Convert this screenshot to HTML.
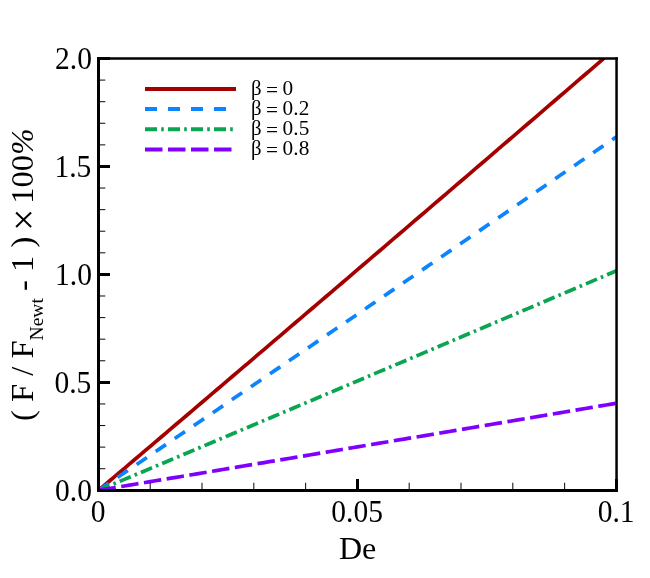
<!DOCTYPE html>
<html><head><meta charset="utf-8"><title>chart</title>
<style>
html,body{margin:0;padding:0;background:#fff;}
body{width:650px;height:578px;overflow:hidden;font-family:"Liberation Serif",serif;}
svg{display:block;position:absolute;left:0;top:0;will-change:transform;}
text{font-family:"Liberation Serif",serif;fill:#000;}
</style></head><body>
<svg width="650" height="578" viewBox="0 0 650 578">
<rect x="0" y="0" width="650" height="578" fill="#fff"/>
<defs><clipPath id="plot"><rect x="98.5" y="58.5" width="518" height="431.8"/></clipPath></defs>

<g fill="none" stroke-width="3.70" clip-path="url(#plot)">
<path d="M98.50 490.30 L103.68 485.90 L108.86 481.51 L114.04 477.11 L119.22 472.71 L124.40 468.31 L129.58 463.91 L134.76 459.51 L139.94 455.11 L145.12 450.71 L150.30 446.30 L155.48 441.90 L160.66 437.50 L165.84 433.09 L171.02 428.69 L176.20 424.28 L181.38 419.87 L186.56 415.47 L191.74 411.06 L196.92 406.65 L202.10 402.24 L207.28 397.83 L212.46 393.42 L217.64 389.01 L222.82 384.60 L228.00 380.19 L233.18 375.78 L238.36 371.36 L243.54 366.95 L248.72 362.54 L253.90 358.12 L259.08 353.70 L264.26 349.29 L269.44 344.87 L274.62 340.45 L279.80 336.04 L284.98 331.62 L290.16 327.20 L295.34 322.78 L300.52 318.36 L305.70 313.94 L310.88 309.51 L316.06 305.09 L321.24 300.67 L326.42 296.24 L331.60 291.82 L336.78 287.39 L341.96 282.97 L347.14 278.54 L352.32 274.12 L357.50 269.69 L362.68 265.26 L367.86 260.83 L373.04 256.40 L378.22 251.97 L383.40 247.54 L388.58 243.11 L393.76 238.68 L398.94 234.24 L404.12 229.81 L409.30 225.38 L414.48 220.94 L419.66 216.51 L424.84 212.07 L430.02 207.64 L435.20 203.20 L440.38 198.76 L445.56 194.32 L450.74 189.88 L455.92 185.45 L461.10 181.00 L466.28 176.56 L471.46 172.12 L476.64 167.68 L481.82 163.24 L487.00 158.79 L492.18 154.35 L497.36 149.91 L502.54 145.46 L507.72 141.02 L512.90 136.57 L518.08 132.12 L523.26 127.67 L528.44 123.23 L533.62 118.78 L538.80 114.33 L543.98 109.88 L549.16 105.43 L554.34 100.98 L559.52 96.52 L564.70 92.07 L569.88 87.62 L575.06 83.16 L580.24 78.71 L585.42 74.25 L590.60 69.80 L595.78 65.34 L600.96 60.89 L606.14 56.43 L611.32 51.97 L616.50 47.51" stroke="#a50000"/>
<path d="M98.50 490.30 L103.68 486.79 L108.86 483.28 L114.04 479.76 L119.22 476.25 L124.40 472.74 L129.58 469.22 L134.76 465.71 L139.94 462.20 L145.12 458.68 L150.30 455.16 L155.48 451.65 L160.66 448.13 L165.84 444.61 L171.02 441.10 L176.20 437.58 L181.38 434.06 L186.56 430.54 L191.74 427.02 L196.92 423.50 L202.10 419.98 L207.28 416.46 L212.46 412.93 L217.64 409.41 L222.82 405.89 L228.00 402.37 L233.18 398.84 L238.36 395.32 L243.54 391.79 L248.72 388.27 L253.90 384.74 L259.08 381.22 L264.26 377.69 L269.44 374.16 L274.62 370.63 L279.80 367.10 L284.98 363.58 L290.16 360.05 L295.34 356.52 L300.52 352.99 L305.70 349.46 L310.88 345.92 L316.06 342.39 L321.24 338.86 L326.42 335.33 L331.60 331.79 L336.78 328.26 L341.96 324.73 L347.14 321.19 L352.32 317.66 L357.50 314.12 L362.68 310.58 L367.86 307.05 L373.04 303.51 L378.22 299.97 L383.40 296.43 L388.58 292.89 L393.76 289.35 L398.94 285.81 L404.12 282.27 L409.30 278.73 L414.48 275.19 L419.66 271.65 L424.84 268.11 L430.02 264.56 L435.20 261.02 L440.38 257.48 L445.56 253.93 L450.74 250.39 L455.92 246.84 L461.10 243.30 L466.28 239.75 L471.46 236.20 L476.64 232.66 L481.82 229.11 L487.00 225.56 L492.18 222.01 L497.36 218.46 L502.54 214.91 L507.72 211.36 L512.90 207.81 L518.08 204.26 L523.26 200.71 L528.44 197.16 L533.62 193.60 L538.80 190.05 L543.98 186.50 L549.16 182.94 L554.34 179.39 L559.52 175.83 L564.70 172.27 L569.88 168.72 L575.06 165.16 L580.24 161.60 L585.42 158.05 L590.60 154.49 L595.78 150.93 L600.96 147.37 L606.14 143.81 L611.32 140.25 L616.50 136.69" stroke="#0a84ff" stroke-dasharray="12.4 10.635"/>
<path d="M98.50 490.30 L103.68 488.12 L108.86 485.94 L114.04 483.76 L119.22 481.58 L124.40 479.40 L129.58 477.22 L134.76 475.04 L139.94 472.85 L145.12 470.67 L150.30 468.49 L155.48 466.31 L160.66 464.12 L165.84 461.94 L171.02 459.76 L176.20 457.57 L181.38 455.39 L186.56 453.21 L191.74 451.02 L196.92 448.84 L202.10 446.65 L207.28 444.46 L212.46 442.28 L217.64 440.09 L222.82 437.91 L228.00 435.72 L233.18 433.53 L238.36 431.34 L243.54 429.16 L248.72 426.97 L253.90 424.78 L259.08 422.59 L264.26 420.40 L269.44 418.21 L274.62 416.02 L279.80 413.83 L284.98 411.64 L290.16 409.45 L295.34 407.26 L300.52 405.07 L305.70 402.88 L310.88 400.68 L316.06 398.49 L321.24 396.30 L326.42 394.11 L331.60 391.91 L336.78 389.72 L341.96 387.53 L347.14 385.33 L352.32 383.14 L357.50 380.94 L362.68 378.75 L367.86 376.55 L373.04 374.36 L378.22 372.16 L383.40 369.96 L388.58 367.77 L393.76 365.57 L398.94 363.37 L404.12 361.18 L409.30 358.98 L414.48 356.78 L419.66 354.58 L424.84 352.38 L430.02 350.18 L435.20 347.98 L440.38 345.78 L445.56 343.58 L450.74 341.38 L455.92 339.18 L461.10 336.98 L466.28 334.78 L471.46 332.58 L476.64 330.38 L481.82 328.18 L487.00 325.97 L492.18 323.77 L497.36 321.57 L502.54 319.36 L507.72 317.16 L512.90 314.96 L518.08 312.75 L523.26 310.55 L528.44 308.34 L533.62 306.14 L538.80 303.93 L543.98 301.72 L549.16 299.52 L554.34 297.31 L559.52 295.11 L564.70 292.90 L569.88 290.69 L575.06 288.48 L580.24 286.27 L585.42 284.07 L590.60 281.86 L595.78 279.65 L600.96 277.44 L606.14 275.23 L611.32 273.02 L616.50 270.81" stroke="#0aa550" stroke-dasharray="12 4.2 2.6 4.215"/>
<path d="M98.50 490.30 L103.68 489.44 L108.86 488.57 L114.04 487.71 L119.22 486.84 L124.40 485.97 L129.58 485.11 L134.76 484.24 L139.94 483.38 L145.12 482.51 L150.30 481.65 L155.48 480.78 L160.66 479.91 L165.84 479.05 L171.02 478.18 L176.20 477.31 L181.38 476.45 L186.56 475.58 L191.74 474.71 L196.92 473.85 L202.10 472.98 L207.28 472.11 L212.46 471.24 L217.64 470.38 L222.82 469.51 L228.00 468.64 L233.18 467.77 L238.36 466.91 L243.54 466.04 L248.72 465.17 L253.90 464.30 L259.08 463.43 L264.26 462.56 L269.44 461.69 L274.62 460.83 L279.80 459.96 L284.98 459.09 L290.16 458.22 L295.34 457.35 L300.52 456.48 L305.70 455.61 L310.88 454.74 L316.06 453.87 L321.24 453.00 L326.42 452.13 L331.60 451.26 L336.78 450.39 L341.96 449.52 L347.14 448.65 L352.32 447.78 L357.50 446.91 L362.68 446.03 L367.86 445.16 L373.04 444.29 L378.22 443.42 L383.40 442.55 L388.58 441.68 L393.76 440.81 L398.94 439.93 L404.12 439.06 L409.30 438.19 L414.48 437.32 L419.66 436.45 L424.84 435.57 L430.02 434.70 L435.20 433.83 L440.38 432.95 L445.56 432.08 L450.74 431.21 L455.92 430.34 L461.10 429.46 L466.28 428.59 L471.46 427.71 L476.64 426.84 L481.82 425.97 L487.00 425.09 L492.18 424.22 L497.36 423.34 L502.54 422.47 L507.72 421.60 L512.90 420.72 L518.08 419.85 L523.26 418.97 L528.44 418.10 L533.62 417.22 L538.80 416.35 L543.98 415.47 L549.16 414.60 L554.34 413.72 L559.52 412.84 L564.70 411.97 L569.88 411.09 L575.06 410.22 L580.24 409.34 L585.42 408.46 L590.60 407.59 L595.78 406.71 L600.96 405.83 L606.14 404.96 L611.32 404.08 L616.50 403.20" stroke="#8000ff" stroke-dasharray="17.5 5.535"/>
</g>
<g stroke="#000" fill="none">
<path d="M97 58.45 H617.9" stroke-width="2.45"/>
<path d="M616.55 57.3 V492" stroke-width="2.5"/>
<path d="M98.5 57 V492" stroke-width="3"/>
<path d="M97 490.5 H617.8" stroke-width="3"/>
<path d="M100 382.50 H110" stroke-width="3"/>
<path d="M100 274.50 H110" stroke-width="3"/>
<path d="M100 166.50 H110" stroke-width="3"/>
<path d="M100 58.50 H110" stroke-width="3"/>
<path d="M100 468.71 H105.3" stroke-width="1.05" stroke="#111"/>
<path d="M100 447.12 H105.3" stroke-width="1.05" stroke="#111"/>
<path d="M100 425.53 H105.3" stroke-width="1.05" stroke="#111"/>
<path d="M100 403.94 H105.3" stroke-width="1.05" stroke="#111"/>
<path d="M100 360.76 H105.3" stroke-width="1.05" stroke="#111"/>
<path d="M100 339.17 H105.3" stroke-width="1.05" stroke="#111"/>
<path d="M100 317.58 H105.3" stroke-width="1.05" stroke="#111"/>
<path d="M100 295.99 H105.3" stroke-width="1.05" stroke="#111"/>
<path d="M100 252.81 H105.3" stroke-width="1.05" stroke="#111"/>
<path d="M100 231.22 H105.3" stroke-width="1.05" stroke="#111"/>
<path d="M100 209.63 H105.3" stroke-width="1.05" stroke="#111"/>
<path d="M100 188.04 H105.3" stroke-width="1.05" stroke="#111"/>
<path d="M100 144.86 H105.3" stroke-width="1.05" stroke="#111"/>
<path d="M100 123.27 H105.3" stroke-width="1.05" stroke="#111"/>
<path d="M100 101.68 H105.3" stroke-width="1.05" stroke="#111"/>
<path d="M100 80.09 H105.3" stroke-width="1.05" stroke="#111"/>
<path d="M357.50 489 V479" stroke-width="3"/>
<path d="M616.50 489 V479" stroke-width="3"/>
<path d="M150.20 489 V482.8" stroke-width="1.05" stroke="#111"/>
<path d="M202.00 489 V482.8" stroke-width="1.05" stroke="#111"/>
<path d="M253.80 489 V482.8" stroke-width="1.05" stroke="#111"/>
<path d="M305.60 489 V482.8" stroke-width="1.05" stroke="#111"/>
<path d="M409.20 489 V482.8" stroke-width="1.05" stroke="#111"/>
<path d="M461.00 489 V482.8" stroke-width="1.05" stroke="#111"/>
<path d="M512.80 489 V482.8" stroke-width="1.05" stroke="#111"/>
<path d="M564.60 489 V482.8" stroke-width="1.05" stroke="#111"/>
</g>
<g fill="none" stroke-width="4">
<path d="M145 89 H236" stroke="#a50000"/>
<path d="M145 109 H236" stroke="#0a84ff" stroke-dasharray="12 11 12 11 12 11 12 100"/>
<path d="M145 129.3 H236" stroke="#0aa550" stroke-dasharray="12 4.2 2.6 4.2"/>
<path d="M145 149.6 H236" stroke="#8000ff" stroke-dasharray="17.5 5.5 17.5 5.5 17.5 5.5 17.5 100"/>
</g>
<text y="95.3" font-size="21.3"><tspan x="251.0" dy="-0.6" font-size="20.8">β</tspan><tspan x="266.0" dy="2.6">=</tspan><tspan x="282.4" dy="-2.0" letter-spacing="0.25">0</tspan></text>
<text y="115.3" font-size="21.3"><tspan x="251.0" dy="-0.6" font-size="20.8">β</tspan><tspan x="266.0" dy="2.6">=</tspan><tspan x="282.4" dy="-2.0" letter-spacing="0.25">0.2</tspan></text>
<text y="135.3" font-size="21.3"><tspan x="251.0" dy="-0.6" font-size="20.8">β</tspan><tspan x="266.0" dy="2.6">=</tspan><tspan x="282.4" dy="-2.0" letter-spacing="0.25">0.5</tspan></text>
<text y="155.3" font-size="21.3"><tspan x="251.0" dy="-0.6" font-size="20.8">β</tspan><tspan x="266.0" dy="2.6">=</tspan><tspan x="282.4" dy="-2.0" letter-spacing="0.25">0.8</tspan></text>
<text transform="translate(92.0 500.5) scale(0.940 1)" font-size="31.4" text-anchor="end">0.0</text>
<text transform="translate(91.3 392.6) scale(0.940 1)" font-size="31.4" text-anchor="end">0.5</text>
<text transform="translate(92.0 284.6) scale(0.940 1)" font-size="31.4" text-anchor="end">1.0</text>
<text transform="translate(91.3 176.6) scale(0.940 1)" font-size="31.4" text-anchor="end">1.5</text>
<text transform="translate(92.0 68.7) scale(0.940 1)" font-size="31.4" text-anchor="end">2.0</text>
<text transform="translate(98.1 522.3) scale(0.940 1)" font-size="31.4" text-anchor="middle">0</text>
<text transform="translate(357.1 522.3) scale(0.940 1)" font-size="31.4" text-anchor="middle">0.05</text>
<text transform="translate(616.1 522.3) scale(0.940 1)" font-size="31.4" text-anchor="middle">0.1</text>
<text x="357.6" y="558.6" font-size="32" text-anchor="middle">De</text>
<text transform="translate(32.8 421) rotate(-90)" font-size="32.6">( F / F<tspan font-size="19.5" dy="10.3">Newt</tspan><tspan dy="-10.3" dx="-1"> - 1 ) </tspan><tspan x="190.3" dy="3.9" font-size="39">×</tspan><tspan x="217.3" dy="-3.9">100</tspan><tspan font-style="italic" font-size="31.5" dx="0.2">%</tspan></text>
</svg></body></html>
